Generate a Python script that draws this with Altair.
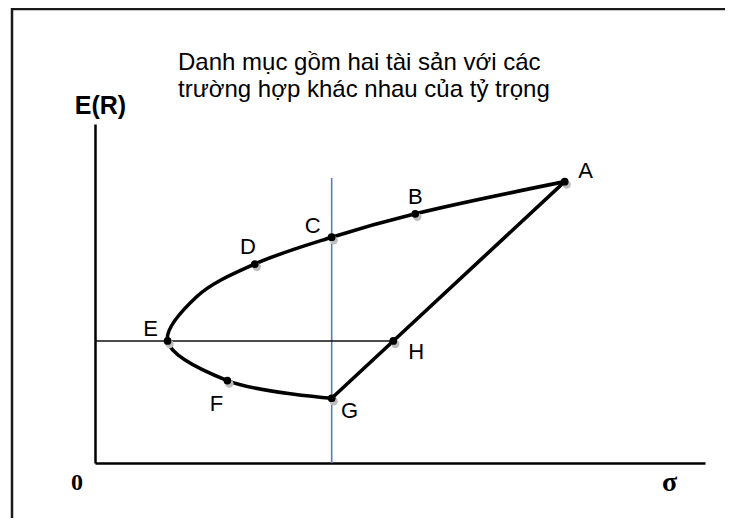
import altair as alt
import pandas as pd

# ---- data (sigma, E(R) in arbitrary units 0..100) ----
labels = ["A", "B", "C", "D", "E", "F", "G", "H"]
sigma = [77.0, 52.5, 38.8, 26.2, 11.9, 21.7, 38.8, 48.9]
er = [83.0, 73.5, 66.6, 58.7, 36.0, 24.3, 19.1, 36.0]

# curved frontier A -> ... -> G (labelled points plus one traced point between D and E)
curve_sigma = [77.0, 52.5, 38.8, 26.2, 16.7, 11.9, 21.7, 38.8]
curve_er = [83.0, 73.5, 66.6, 58.7, 49.1, 36.0, 24.3, 19.1]

# straight segment G -> H -> A
seg_labels = ["G", "H", "A"]

blue_top = 84.1  # top of the vertical blue line through C and G

title_lines = ["Danh mục gồm hai tài sản với các", "trường hợp khác nhau của tỷ trọng"]

# ---- styles ----
label_offsets = {
    "A": (21, -11), "B": (0, -17), "C": (-19, -11), "D": (-7, -17),
    "E": (-17, -12), "F": (-11, 23), "G": (18, 13), "H": (23, 11),
}

pts = pd.DataFrame({"label": labels, "sigma": sigma, "er": er})
curve = pd.DataFrame({"i": list(range(len(curve_sigma))), "sigma": curve_sigma, "er": curve_er})
idx = {l: k for k, l in enumerate(labels)}
seg = pd.DataFrame({
    "i": list(range(len(seg_labels))),
    "sigma": [sigma[idx[l]] for l in seg_labels],
    "er": [er[idx[l]] for l in seg_labels],
})
hline = pd.DataFrame({"sigma": [0.0], "sigma2": [sigma[idx["H"]]], "er": [er[idx["E"]]]})
vline = pd.DataFrame({"sigma": [sigma[idx["C"]]], "er": [0.0], "er2": [blue_top]})
origin = pd.DataFrame({"sigma": [0.0], "er": [0.0], "t": ["0"]})
one = pd.DataFrame({"k": [0]})

xs = alt.Scale(domain=[0, 100], nice=False, zero=False)
ys = alt.Scale(domain=[0, 100], nice=False, zero=False)

xaxis = alt.Axis(
    title="σ", titleFont="Liberation Serif", titleFontSize=28, titleFontWeight="bold",
    titleColor="black", titleX=574, titleY=27, titleAlign="center", titleBaseline="alphabetic",
    labels=False, ticks=False, grid=False, domainColor="black", domainWidth=2.5,
)
yaxis = alt.Axis(
    title="E(R)", titleAngle=0, titleFont="Liberation Sans", titleFontSize=25,
    titleFontWeight="bold", titleColor="black", titleX=5, titleY=-11,
    titleAlign="center", titleBaseline="alphabetic",
    labels=False, ticks=False, grid=False, domainColor="black", domainWidth=2.5,
)

X = lambda f="sigma": alt.X(f"{f}:Q", scale=xs, axis=xaxis)
Y = lambda f="er": alt.Y(f"{f}:Q", scale=ys, axis=yaxis)

frame_top = alt.Chart(one).mark_rule(color="#1a1a1a", strokeWidth=2.5).encode(
    x=alt.value(-83), x2=alt.value(640), y=alt.value(-115))
frame_left = alt.Chart(one).mark_rule(color="#1a1a1a", strokeWidth=2.5).encode(
    x=alt.value(-83), y=alt.value(-116), y2=alt.value(402))

blue = alt.Chart(vline).mark_rule(color="#4f81bd", strokeWidth=1.6).encode(
    x=X(), y=Y(), y2="er2:Q")
horiz = alt.Chart(hline).mark_rule(color="#111111", strokeWidth=1.5).encode(
    x=X(), x2="sigma2:Q", y=Y())

curve_l = alt.Chart(curve).mark_line(color="black", strokeWidth=3.6, interpolate="catmull-rom").encode(
    x=X(), y=Y(), order="i:Q")
seg_l = alt.Chart(seg).mark_line(color="black", strokeWidth=3.6).encode(
    x=X(), y=Y(), order="i:Q")

shadow = alt.Chart(pts).mark_circle(color="#bdbdbd", size=70, opacity=1, xOffset=2, yOffset=3).encode(
    x=X(), y=Y())
dots = alt.Chart(pts).mark_circle(color="black", size=60, opacity=1).encode(x=X(), y=Y())

label_layers = []
for l in labels:
    dx, dy = label_offsets[l]
    label_layers.append(
        alt.Chart(pts).transform_filter(alt.datum.label == l).mark_text(
            font="Liberation Sans", fontSize=22, color="black", align="center",
            baseline="middle", dx=dx, dy=dy,
        ).encode(x=X(), y=Y(), text="label:N")
    )

zero_t = alt.Chart(origin).mark_text(
    font="Liberation Serif", fontSize=24, fontWeight="bold", color="black",
    align="center", baseline="alphabetic", dx=-18, dy=27,
).encode(x=X(), y=Y(), text="t:N")

title_t = alt.Chart(one).mark_text(
    font="Liberation Sans", fontSize=24, color="black", align="left",
    baseline="alphabetic", lineHeight=27, text=title_lines,
).encode(x=alt.value(83), y=alt.value(-54))

chart = alt.layer(
    frame_top, frame_left, blue, horiz, curve_l, seg_l, shadow, dots, *label_layers, zero_t, title_t
).properties(
    width=610, height=339,
    autosize=alt.AutoSizeParams(type="none"),
    padding={"left": 87, "top": 116, "right": 20, "bottom": 55},
    background="white",
).configure_view(stroke=None)

chart.save("out.html", embed_options={"renderer": "svg", "actions": False})
